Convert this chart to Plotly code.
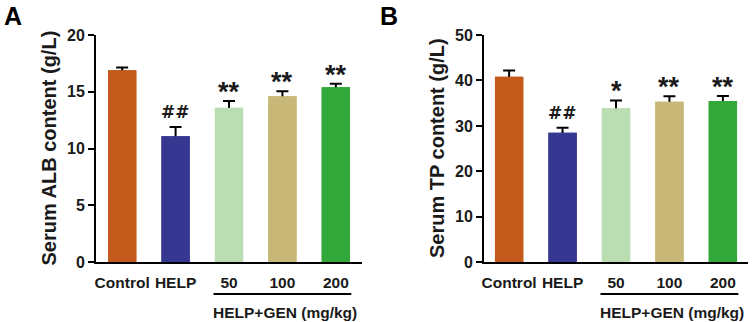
import plotly.graph_objects as go

categories = ["Control", "HELP", "50", "100", "200"]
colors = ["#C35A1C", "#363790", "#BADDB2", "#C8B877", "#32A83A"]

alb_mean = [16.9, 11.1, 13.6, 14.6, 15.4]
alb_err = [0.25, 0.8, 0.6, 0.45, 0.3]
alb_sig = ["", "##", "**", "**", "**"]

tp_mean = [40.8, 28.5, 33.9, 35.3, 35.5]
tp_err = [1.4, 1.1, 1.7, 1.2, 1.1]
tp_sig = ["", "##", "*", "**", "**"]

group_label = "HELP+GEN (mg/kg)"
ytitle_a = "Serum ALB content (g/L)"
ytitle_b = "Serum TP content (g/L)"

FONT = "Liberation Sans, Arial, sans-serif"
TXT = "#1a1a1a"
W, H = 752, 322

fig = go.Figure()
xs = list(range(len(categories)))


def add_panel(mean, err, xa, ya):
    # bars with error bars; an identical overlay hides the lower half of the error bars
    fig.add_trace(go.Bar(x=xs, y=mean, marker=dict(color=colors, line=dict(width=0)),
                         width=0.53, xaxis=xa, yaxis=ya, showlegend=False,
                         error_y=dict(type="data", array=err, visible=True, color="black",
                                      thickness=2, width=6)))
    fig.add_trace(go.Bar(x=xs, y=mean, marker=dict(color=colors, line=dict(width=0)),
                         width=0.53, xaxis=xa, yaxis=ya, showlegend=False, hoverinfo="skip"))


add_panel(alb_mean, alb_err, "x", "y")
add_panel(tp_mean, tp_err, "x2", "y2")

py = lambda p: (H - p) / H
px = lambda p: p / W

common_x = dict(tickmode="array", tickvals=xs, ticktext=categories, automargin=False,
                showline=True, linecolor="black", linewidth=2, ticks="", showgrid=False,
                zeroline=False, ticklabelstandoff=5,
                tickfont=dict(family=FONT, size=15.5, color=TXT, weight="bold"))
common_y = dict(showline=True, linecolor="black", linewidth=2, ticks="outside", ticklen=6,
                tickwidth=2, tickcolor="black", showgrid=False, zeroline=False, automargin=False,
                tickfont=dict(family=FONT, size=16, color=TXT, weight="bold"))

fig.update_layout(
    width=W, height=H, margin=dict(l=0, r=0, t=0, b=0, autoexpand=False),
    paper_bgcolor="white", plot_bgcolor="white", barmode="overlay",
    xaxis=dict(domain=[px(96), px(362)], anchor="y", range=[-0.49, 4.49], **common_x),
    yaxis=dict(domain=[py(262.3), py(35)], anchor="x", range=[0, 20], dtick=5, **common_y),
    xaxis2=dict(domain=[px(484), px(748)], anchor="y2", range=[-0.47, 4.47], **common_x),
    yaxis2=dict(domain=[py(262.3), py(35)], anchor="x2", range=[0, 50], dtick=10, **common_y),
)

ann = []
for (mean, err, sig, xr, yr) in [(alb_mean, alb_err, alb_sig, "x", "y"), (tp_mean, tp_err, tp_sig, "x2", "y2")]:
    for i, s in enumerate(sig):
        if not s:
            continue
        if s.startswith("#"):
            ann.append(dict(x=i, y=mean[i] + err[i], xref=xr, yref=yr, text="<b>" + s + "</b>", showarrow=False,
                            yanchor="middle", yshift=15,
                            font=dict(family="DejaVu Sans, Liberation Sans", size=17, color=TXT, weight="bold")))
        else:
            ann.append(dict(x=i, y=mean[i] + err[i], xref=xr, yref=yr, text=s, showarrow=False,
                            yanchor="middle", yshift=9, font=dict(family=FONT, size=27, color=TXT, weight="bold")))
    ann.append(dict(x=3, y=py(312), xref=xr, yref="paper", text=group_label, showarrow=False,
                    xshift=3, yanchor="middle", font=dict(family=FONT, size=15.5, color=TXT, weight="bold")))

ann.append(dict(x=px(48.5), y=py(148), xref="paper", yref="paper", text=ytitle_a, textangle=-90,
                showarrow=False, xanchor="center", yanchor="middle",
                font=dict(family=FONT, size=20, color=TXT, weight="bold")))
ann.append(dict(x=px(437), y=py(148), xref="paper", yref="paper", text=ytitle_b, textangle=-90,
                showarrow=False, xanchor="center", yanchor="middle",
                font=dict(family=FONT, size=20, color=TXT, weight="bold")))
ann.append(dict(x=px(12.5), y=1, xref="paper", yref="paper", text="A", showarrow=False,
                xanchor="center", yanchor="top", font=dict(family=FONT, size=25, color="black", weight="bold")))
ann.append(dict(x=px(388.5), y=1, xref="paper", yref="paper", text="B", showarrow=False,
                xanchor="center", yanchor="top", font=dict(family=FONT, size=25, color="black", weight="bold")))
fig.update_layout(annotations=ann)

shapes = []
for xr in ["x", "x2"]:
    shapes.append(dict(type="line", xref=xr, yref="paper", x0=2 - 0.29, x1=4 + 0.29,
                       y0=py(294), y1=py(294), line=dict(color="black", width=2)))
fig.update_layout(shapes=shapes)

fig.write_html("out.html", config={"displayModeBar": False},
               post_script="document.body.style.margin='0';")
